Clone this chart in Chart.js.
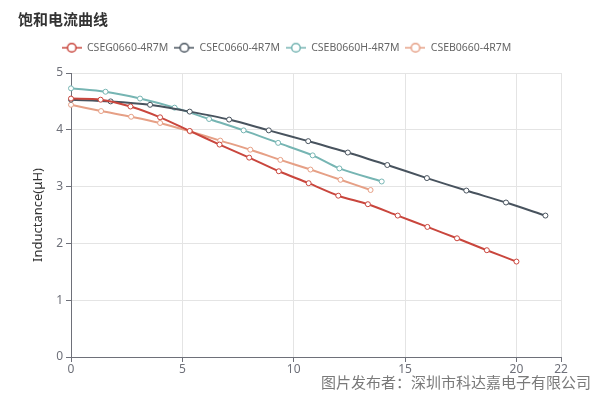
<!DOCTYPE html>
<html>
<head>
<meta charset="utf-8">
<script src="https://cdn.jsdelivr.net/npm/chart.js@4.4.0/dist/chart.umd.min.js"></script>
<style>
    html, body { margin: 0; padding: 0; background: #fff; }
    #wrap { position: relative; width: 600px; height: 395px; overflow: hidden; }
    #title {
        position: absolute; left: 18px; top: 8px;
        font: bold 15px "Noto Sans CJK SC", sans-serif; color: #333;
    }
    #credit {
        position: absolute; right: 9px; top: 371px;
        font: 15px "Noto Sans CJK SC", sans-serif; color: #7a7a7a;
    }
    canvas { position: absolute; left: 0; top: 0; }
</style>
</head>
<body>
<div id="wrap">
    <canvas id="satChart" width="600" height="395"></canvas>
    <div id="title">饱和电流曲线</div>
    <div id="credit">图片发布者：深圳市科达嘉电子有限公司</div>
</div>
<script>
// Кривые насыщения (ток, А -> индуктивность, мкГн)
const seriesNames = ['CSEG0660-4R7M', 'CSEC0660-4R7M', 'CSEB0660H-4R7M', 'CSEB0660-4R7M'];

const csegX = [0, 1.33, 2.67, 4, 5.33, 6.67, 8, 9.33, 10.67, 12, 13.33, 14.67, 16, 17.33, 18.67, 20];
const csegY = [4.55, 4.53, 4.41, 4.22, 3.98, 3.74, 3.51, 3.27, 3.06, 2.84, 2.69, 2.49, 2.29, 2.09, 1.88, 1.68];

const csecX = [0, 1.78, 3.55, 5.33, 7.1, 8.88, 10.65, 12.43, 14.2, 15.98, 17.75, 19.53, 21.3];
const csecY = [4.53, 4.50, 4.44, 4.32, 4.18, 3.99, 3.80, 3.60, 3.38, 3.15, 2.93, 2.72, 2.49];

const csebhX = [0, 1.55, 3.1, 4.65, 6.2, 7.75, 9.3, 10.85, 12.05, 13.95];
const csebhY = [4.73, 4.67, 4.55, 4.39, 4.19, 3.99, 3.77, 3.55, 3.32, 3.09];

const csebX = [0, 1.35, 2.7, 4, 5.35, 6.7, 8.05, 9.4, 10.75, 12.1, 13.45];
const csebY = [4.44, 4.33, 4.23, 4.12, 3.97, 3.81, 3.65, 3.47, 3.30, 3.12, 2.94];

const xTicks = [0, 5, 10, 15, 20, 22];
const yTicks = [0, 1, 2, 3, 4, 5];

const colors = ['#c9463d', '#48535e', '#76b5b3', '#e6a086'];

function toPoints(xs, ys) {
    return xs.map((x, i) => ({ x: x, y: ys[i] }));
}

// Значок легенды: линия с пустым кружком
function legendIcon(color) {
    const c = document.createElement('canvas');
    c.width = 20; c.height = 12;
    const g = c.getContext('2d');
    g.strokeStyle = color;
    g.lineWidth = 1.5;
    g.beginPath();
    g.moveTo(0, 6); g.lineTo(20, 6);
    g.stroke();
    g.fillStyle = '#fff';
    g.beginPath();
    g.arc(10, 6, 4.3, 0, Math.PI * 2);
    g.fill();
    g.stroke();
    return c;
}

const allSeries = [
    toPoints(csegX, csegY),
    toPoints(csecX, csecY),
    toPoints(csebhX, csebhY),
    toPoints(csebX, csebY)
];

const axisColor = '#6e7079';
const gridColor = '#e4e4e4';
const fontFamily = "'Noto Sans', sans-serif";

new Chart(document.getElementById('satChart').getContext('2d'), {
    type: 'scatter',
    data: {
        datasets: allSeries.map((pts, i) => ({
            label: seriesNames[i],
            data: pts,
            showLine: true,
            borderColor: colors[i],
            backgroundColor: '#fff',
            borderWidth: 2,
            tension: 0.3,
            pointRadius: 2.5,
            pointBorderWidth: 1,
            pointBackgroundColor: '#fff',
            pointBorderColor: colors[i],
            clip: false
        }))
    },
    options: {
        responsive: false,
        animation: false,
        layout: { padding: { top: 36.5, right: 39, left: 12, bottom: 0 } },
        scales: {
            x: {
                type: 'linear',
                min: 0,
                max: 22,
                afterBuildTicks: (scale) => { scale.ticks = xTicks.map(v => ({ value: v })); },
                afterFit: (scale) => { scale.height = 38; },
                grid: { color: gridColor, tickColor: axisColor, tickLength: 5 },
                border: { color: axisColor, width: 1 },
                ticks: { color: axisColor, font: { size: 12, family: fontFamily }, padding: 0, maxRotation: 0 }
            },
            y: {
                min: 0,
                max: 5,
                afterBuildTicks: (scale) => { scale.ticks = yTicks.map(v => ({ value: v })); },
                afterFit: (scale) => { scale.width = 59; },
                grid: { color: gridColor, tickColor: axisColor, tickLength: 5 },
                border: { color: axisColor, width: 1 },
                ticks: { color: axisColor, font: { size: 12, family: fontFamily }, padding: 3 },
                title: {
                    display: true,
                    text: 'Inductance(μH)',
                    color: '#333',
                    font: { size: 13, family: fontFamily },
                    padding: { top: 18, bottom: 0 }
                }
            }
        },
        plugins: {
            legend: {
                position: 'top',
                labels: {
                    usePointStyle: true,
                    pointStyleWidth: 20,
                    color: '#666',
                    font: { size: 10.5, family: fontFamily },
                    padding: 6,
                    generateLabels: (chart) => {
                        const items = Chart.defaults.plugins.legend.labels.generateLabels(chart);
                        items.forEach((it, i) => {
                            it.pointStyle = legendIcon(colors[i]);
                            it.fontColor = '#666';
                        });
                        return items;
                    }
                }
            },
            // пустой подзаголовок — отступ между легендой и графиком
            subtitle: {
                display: true,
                text: ' ',
                weight: 500,
                font: { size: 10, lineHeight: 1 },
                padding: 0
            },
            tooltip: { enabled: false }
        }
    }
});
</script>
</body>
</html>
